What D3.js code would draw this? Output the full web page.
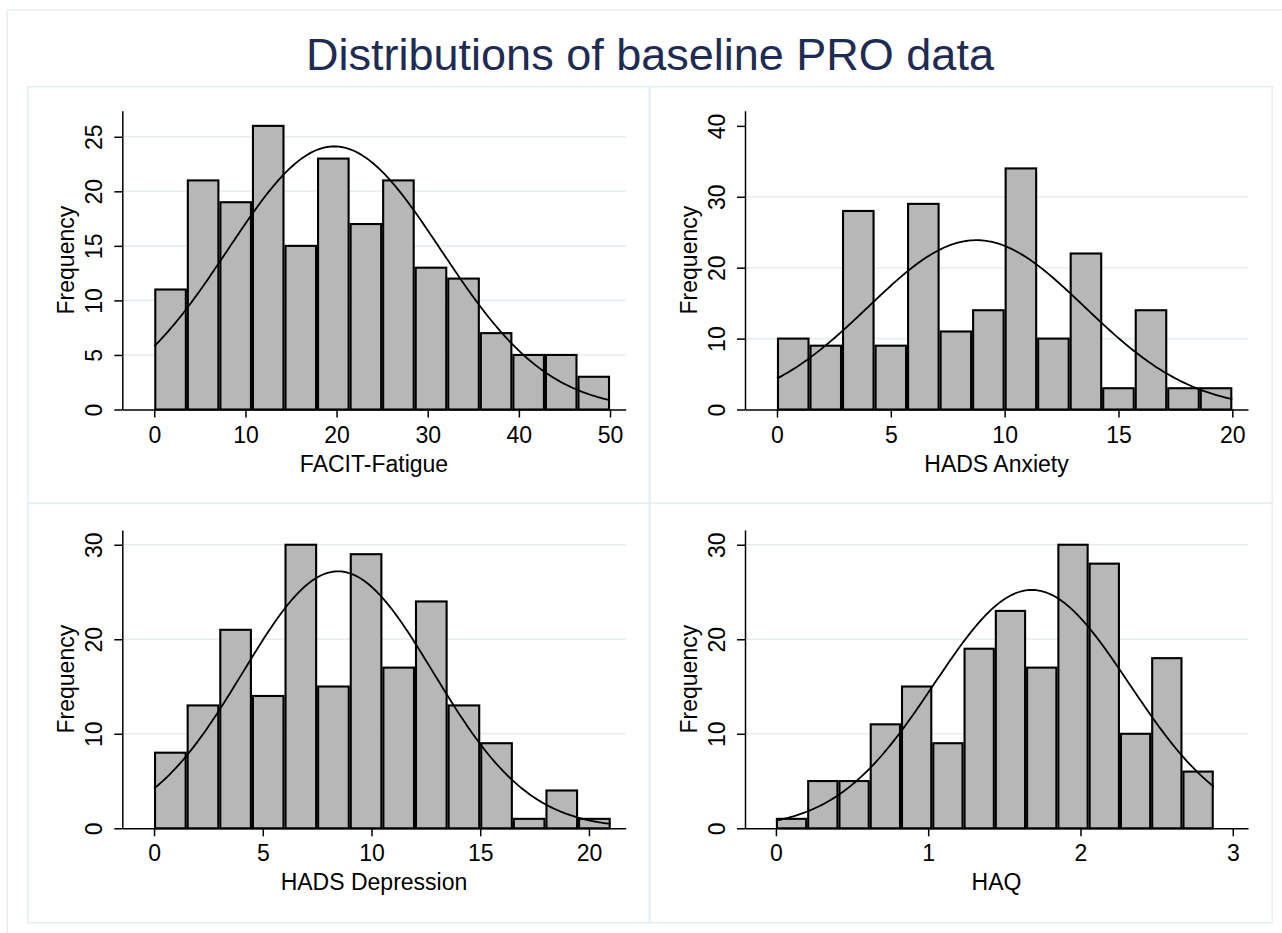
<!DOCTYPE html>
<html>
<head>
<meta charset="utf-8">
<script src="https://d3js.org/d3.v7.min.js"></script>
<style>
    body { margin: 0; background: #fff; }
    svg text { font-family: "Liberation Sans", Arial, Helvetica, sans-serif; }
</style>
</head>
<body>
<div id="viz"></div>
<script>
//Title
var title = "Distributions of baseline PRO data";

//Histogram counts, 14 bins each
var facitCounts      = [11, 21, 19, 26, 15, 23, 17, 21, 13, 12, 7, 5, 5, 3];
var anxietyCounts    = [10, 9, 28, 9, 29, 11, 14, 34, 10, 22, 3, 14, 3, 3];
var depressionCounts = [8, 13, 21, 14, 30, 15, 29, 17, 24, 13, 9, 1, 4, 1];
var haqCounts        = [1, 5, 5, 11, 15, 9, 19, 23, 17, 30, 28, 10, 18, 6];

//Score ranges (min, max) that the bins cover
var facitRange      = [0, 50];
var anxietyRange    = [0, 20];
var depressionRange = [0, 21];
var haqRange        = [0, 2.875];

//Mean and SD for the normal overlay
var facitNormal      = [19.75, 11.7];
var anxietyNormal    = [8.76, 4.75];
var depressionNormal = [8.46, 4.38];
var haqNormal        = [1.68, 0.64];

//Tick labels
var facitXTicks      = [0, 10, 20, 30, 40, 50];
var anxietyXTicks    = [0, 5, 10, 15, 20];
var depressionXTicks = [0, 5, 10, 15, 20];
var haqXTicks        = [0, 1, 2, 3];
var facitYTicks      = [0, 5, 10, 15, 20, 25];
var anxietyYTicks    = [0, 10, 20, 30, 40];
var depressionYTicks = [0, 10, 20, 30];
var haqYTicks        = [0, 10, 20, 30];

//Axis titles
var xTitles = ["FACIT-Fatigue", "HADS Anxiety", "HADS Depression", "HAQ"];
var yTitle = "Frequency";

var width = 1282;
var height = 933;

var svg = d3.select("#viz").append("svg")
    .attr("width", width)
    .attr("height", height);

//Outer frame and panel frames
var frameColor = "#e6eef1";
svg.append("rect").attr("x", 7.3).attr("y", 10).attr("width", 1300).attr("height", 1000)
    .attr("fill", "none").attr("stroke", frameColor).attr("stroke-width", 1.5);

svg.append("text")
    .attr("x", 650).attr("y", 70)
    .attr("text-anchor", "middle")
    .attr("font-size", 45)
    .attr("fill", "#1e2b52")
    .text(title);

//Layout of the 2x2 grid
var cols = [{left: 27.7, right: 649.3, axis: 122.3, end: 625.7},
            {left: 650, right: 1272.3, axis: 745, end: 1248}];
var rows = [{top: 86.7, bottom: 503.3, plotTop: 110.7, base: 409.5},
            {top: 503.3, bottom: 922.7, plotTop: 530, base: 828.3}];

var panels = [
    {counts: facitCounts, range: facitRange, normal: facitNormal, xTicks: facitXTicks, yTicks: facitYTicks,
     xDomain: [-3.51, 51.72], yMax: 27.39, grid: [5, 10, 15, 20, 25], col: 0, row: 0, label: xTitles[0]},
    {counts: anxietyCounts, range: anxietyRange, normal: anxietyNormal, xTicks: anxietyXTicks, yTicks: anxietyYTicks,
     xDomain: [-1.405, 20.69], yMax: 42.14, grid: [10, 20, 30], col: 1, row: 0, label: xTitles[1]},
    {counts: depressionCounts, range: depressionRange, normal: depressionNormal, xTicks: depressionXTicks, yTicks: depressionYTicks,
     xDomain: [-1.46, 21.69], yMax: 31.56, grid: [10, 20, 30], col: 0, row: 1, label: xTitles[2]},
    {counts: haqCounts, range: haqRange, normal: haqNormal, xTicks: haqXTicks, yTicks: haqYTicks,
     xDomain: [-0.203, 3.1], yMax: 31.56, grid: [10, 20, 30], col: 1, row: 1, label: xTitles[3]}
];

panels.forEach(function(p) {
    var c = cols[p.col], r = rows[p.row];

    //Panel frame
    svg.append("rect")
        .attr("x", c.left).attr("y", r.top)
        .attr("width", c.right - c.left).attr("height", r.bottom - r.top)
        .attr("fill", "none").attr("stroke", frameColor).attr("stroke-width", 1.5);

    var x = d3.scaleLinear().domain(p.xDomain).range([c.axis, c.end]);
    var y = d3.scaleLinear().domain([0, p.yMax]).range([r.base, r.plotTop]);

    var g = svg.append("g");

    //Gridlines
    g.selectAll(".grid").data(p.grid).enter().append("line")
        .attr("x1", c.axis).attr("x2", c.end)
        .attr("y1", function(d) { return y(d); })
        .attr("y2", function(d) { return y(d); })
        .attr("stroke", "#e6eef1").attr("stroke-width", 1.6);

    //Bars
    var n = p.counts.length;
    var bw = (p.range[1] - p.range[0]) / n;
    g.selectAll(".bar").data(p.counts).enter().append("rect")
        .attr("x", function(d, i) { return x(p.range[0] + i * bw) + 1; })
        .attr("y", function(d) { return y(d); })
        .attr("width", function(d, i) { return x(p.range[0] + (i + 1) * bw) - x(p.range[0] + i * bw) - 2; })
        .attr("height", function(d) { return r.base - y(d); })
        .attr("fill", "#b7b7b7")
        .attr("stroke", "#000")
        .attr("stroke-width", 2.1);

    //Normal density scaled to counts
    var total = d3.sum(p.counts);
    var mu = p.normal[0], sd = p.normal[1];
    var pts = d3.range(0, 201).map(function(i) { return p.range[0] + (p.range[1] - p.range[0]) * i / 200; });
    var line = d3.line()
        .x(function(d) { return x(d); })
        .y(function(d) {
            var z = (d - mu) / sd;
            return y(total * bw * Math.exp(-0.5 * z * z) / (sd * Math.sqrt(2 * Math.PI)));
        });
    g.append("path").datum(pts)
        .attr("d", line)
        .attr("fill", "none").attr("stroke", "#000").attr("stroke-width", 1.8);

    //Y axis
    var yAxis = g.append("g")
        .attr("transform", "translate(" + c.axis + ",0)")
        .call(d3.axisLeft(y).tickValues(p.yTicks).tickSize(8).tickSizeOuter(0).tickFormat(d3.format("d")));
    yAxis.selectAll("text")
        .attr("x", 0).attr("dy", null)
        .attr("transform", "translate(-20,0) rotate(-90)")
        .attr("text-anchor", "middle");

    //X axis
    var xAxis = g.append("g")
        .attr("transform", "translate(0," + r.base + ")")
        .call(d3.axisBottom(x).tickValues(p.xTicks).tickSize(8).tickSizeOuter(0).tickFormat(d3.format("d")));
    xAxis.selectAll("text").attr("y", 33).attr("dy", null);

    [yAxis, xAxis].forEach(function(a) {
        a.attr("font-size", 23).attr("font-family", null);
        a.selectAll("text").attr("fill", "#000");
        a.selectAll("path, line").attr("stroke", "#000").attr("stroke-width", 1.5);
    });

    //Axis titles
    g.append("text")
        .attr("transform", "translate(" + (c.axis - 48) + "," + ((r.base + r.plotTop) / 2) + ") rotate(-90)")
        .attr("text-anchor", "middle")
        .attr("font-size", 23)
        .text(yTitle);
    g.append("text")
        .attr("x", (c.axis + c.end) / 2).attr("y", r.base + 62)
        .attr("text-anchor", "middle")
        .attr("font-size", 23)
        .text(p.label);
});
</script>
</body>
</html>
